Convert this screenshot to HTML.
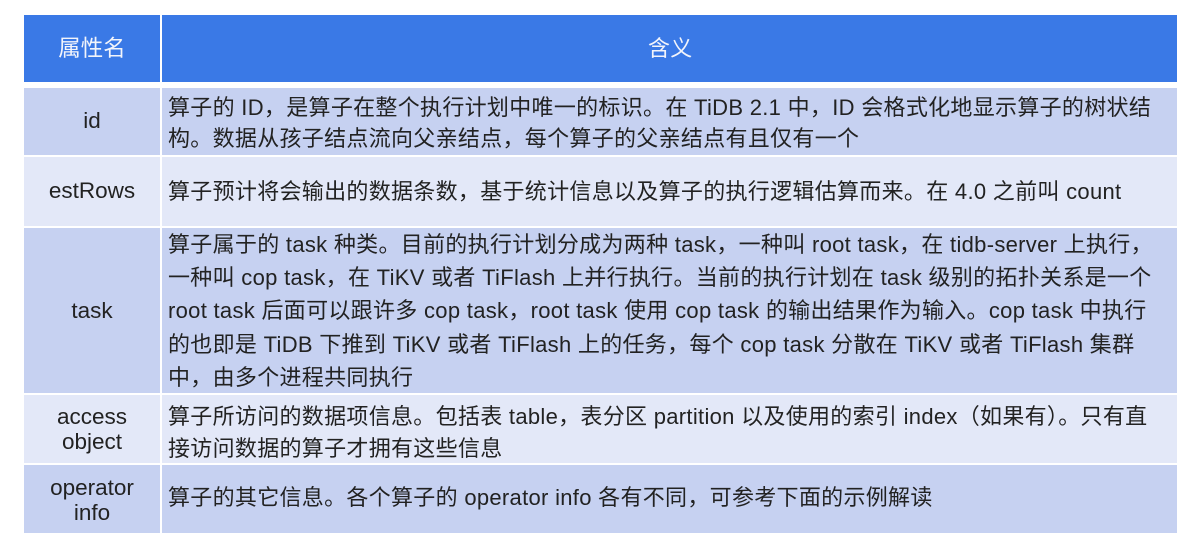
<!DOCTYPE html>
<html><head><meta charset="utf-8"><style>
body{margin:0;width:1179px;height:537px;background:#fff;position:relative;overflow:hidden;font-family:"Liberation Sans","Noto Sans CJK SC",sans-serif;color:#222}
.c{position:absolute}
.h{background:#3a79e6}
.d{background:#c6d1f1}
.l{background:#e3e8f8}
.t{position:absolute;font-size:22px;letter-spacing:0.3px;white-space:nowrap;line-height:1;transform:translateY(-50%)}
.k{position:absolute;font-size:22.5px;line-height:1;text-align:center;width:136px;left:24px;transform:translateY(-50%)}
.w{color:#f2f4fb}
</style></head><body>
<div class="c h" style="left:24px;top:15px;width:136px;height:67px"></div>
<div class="c h" style="left:162px;top:15px;width:1015px;height:67px"></div>
<div class="c d" style="left:24px;top:88px;width:136px;height:67px"></div>
<div class="c d" style="left:162px;top:88px;width:1015px;height:67px"></div>
<div class="c l" style="left:24px;top:157px;width:136px;height:69px"></div>
<div class="c l" style="left:162px;top:157px;width:1015px;height:69px"></div>
<div class="c d" style="left:24px;top:228px;width:136px;height:165px"></div>
<div class="c d" style="left:162px;top:228px;width:1015px;height:165px"></div>
<div class="c l" style="left:24px;top:395px;width:136px;height:68px"></div>
<div class="c l" style="left:162px;top:395px;width:1015px;height:68px"></div>
<div class="c d" style="left:24px;top:465px;width:136px;height:68px"></div>
<div class="c d" style="left:162px;top:465px;width:1015px;height:68px"></div>

<div class="k w" style="top:49px">属性名</div>
<div class="t w" style="left:648px;top:49px">含义</div>

<div class="k" style="top:121px">id</div>
<div class="t" style="left:168px;top:108px">算子的 ID，是算子在整个执行计划中唯一的标识。在 TiDB 2.1 中，ID 会格式化地显示算子的树状结</div>
<div class="t" style="left:168px;top:139px">构。数据从孩子结点流向父亲结点，每个算子的父亲结点有且仅有一个</div>

<div class="k" style="top:191px">estRows</div>
<div class="t" style="left:168px;top:192px">算子预计将会输出的数据条数，基于统计信息以及算子的执行逻辑估算而来。在 4.0 之前叫 count</div>

<div class="k" style="top:311px">task</div>
<div class="t" style="left:168px;top:245px">算子属于的 task 种类。目前的执行计划分成为两种 task，一种叫 root task，在 tidb-server 上执行，</div>
<div class="t" style="left:168px;top:278px">一种叫 cop task，在 TiKV 或者 TiFlash 上并行执行。当前的执行计划在 task 级别的拓扑关系是一个</div>
<div class="t" style="left:168px;top:311px">root task 后面可以跟许多 cop task，root task 使用 cop task 的输出结果作为输入。cop task 中执行</div>
<div class="t" style="left:168px;top:345px">的也即是 TiDB 下推到 TiKV 或者 TiFlash 上的任务，每个 cop task 分散在 TiKV 或者 TiFlash 集群</div>
<div class="t" style="left:168px;top:378px">中，由多个进程共同执行</div>

<div class="k" style="top:417px">access</div>
<div class="k" style="top:442px">object</div>
<div class="t" style="left:168px;top:417px">算子所访问的数据项信息。包括表 table，表分区 partition 以及使用的索引 index（如果有）。只有直</div>
<div class="t" style="left:168px;top:449px">接访问数据的算子才拥有这些信息</div>

<div class="k" style="top:488px">operator</div>
<div class="k" style="top:513px">info</div>
<div class="t" style="left:168px;top:498px">算子的其它信息。各个算子的 operator info 各有不同，可参考下面的示例解读</div>
</body></html>
